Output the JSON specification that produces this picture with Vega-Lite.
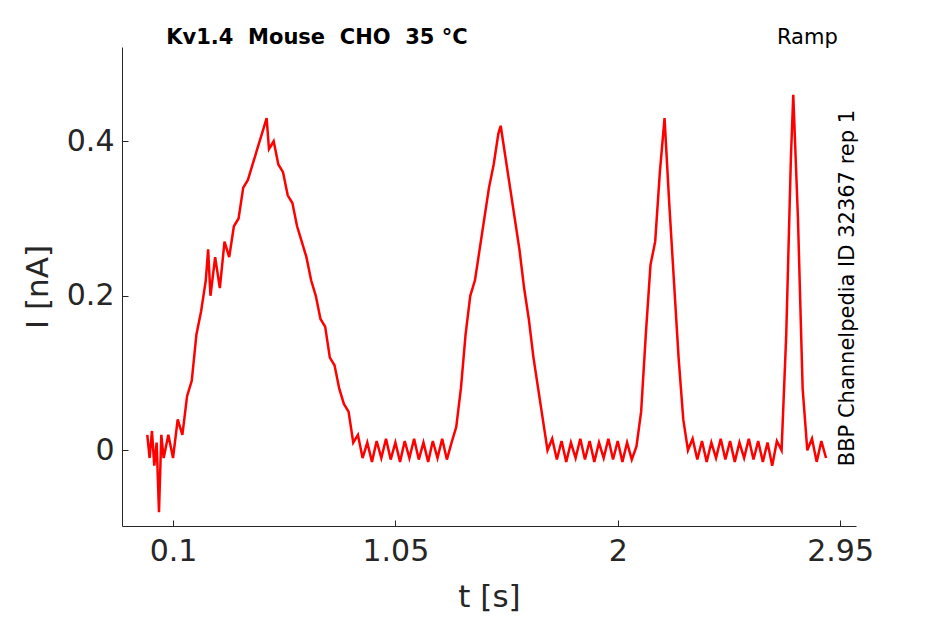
{
  "$schema": "https://vega.github.io/schema/vega-lite/v6.json",
  "width": 734,
  "height": 479,
  "padding": {"left": 122, "top": 47, "right": 89, "bottom": 98},
  "autosize": {"type": "none"},
  "config": {"view": {"stroke": null}, "font": "DejaVu Sans"},
  "datasets": {
    "trace": [
      {"t": -0.01, "I": 0.02}, {"t": 0.0, "I": -0.01}, {"t": 0.01, "I": 0.025}, {"t": 0.02, "I": -0.02},
      {"t": 0.03, "I": 0.01}, {"t": 0.04, "I": -0.08}, {"t": 0.05, "I": 0.02}, {"t": 0.06, "I": -0.01},
      {"t": 0.08, "I": 0.02}, {"t": 0.1, "I": -0.01}, {"t": 0.12, "I": 0.04}, {"t": 0.14, "I": 0.02},
      {"t": 0.16, "I": 0.07}, {"t": 0.18, "I": 0.09}, {"t": 0.2, "I": 0.15}, {"t": 0.22, "I": 0.18},
      {"t": 0.24, "I": 0.22}, {"t": 0.25, "I": 0.26}, {"t": 0.26, "I": 0.2}, {"t": 0.28, "I": 0.25},
      {"t": 0.3, "I": 0.21}, {"t": 0.32, "I": 0.27}, {"t": 0.34, "I": 0.25}, {"t": 0.36, "I": 0.29},
      {"t": 0.38, "I": 0.3}, {"t": 0.4, "I": 0.34}, {"t": 0.42, "I": 0.35}, {"t": 0.44, "I": 0.37},
      {"t": 0.46, "I": 0.39}, {"t": 0.48, "I": 0.41}, {"t": 0.5, "I": 0.43}, {"t": 0.51, "I": 0.39},
      {"t": 0.53, "I": 0.4}, {"t": 0.55, "I": 0.37}, {"t": 0.57, "I": 0.36}, {"t": 0.59, "I": 0.33},
      {"t": 0.61, "I": 0.32}, {"t": 0.63, "I": 0.29}, {"t": 0.65, "I": 0.27}, {"t": 0.67, "I": 0.25},
      {"t": 0.69, "I": 0.22}, {"t": 0.71, "I": 0.2}, {"t": 0.73, "I": 0.17}, {"t": 0.75, "I": 0.16},
      {"t": 0.77, "I": 0.12}, {"t": 0.79, "I": 0.11}, {"t": 0.81, "I": 0.08}, {"t": 0.83, "I": 0.06},
      {"t": 0.85, "I": 0.05}, {"t": 0.87, "I": 0.01}, {"t": 0.89, "I": 0.02}, {"t": 0.91, "I": -0.01},
      {"t": 0.93, "I": 0.01}, {"t": 0.95, "I": -0.015}, {"t": 0.97, "I": 0.012}, {"t": 0.99, "I": -0.01},
      {"t": 1.01, "I": 0.015}, {"t": 1.03, "I": -0.012}, {"t": 1.05, "I": 0.01}, {"t": 1.07, "I": -0.015},
      {"t": 1.09, "I": 0.012}, {"t": 1.11, "I": -0.01}, {"t": 1.13, "I": 0.015}, {"t": 1.15, "I": -0.012},
      {"t": 1.17, "I": 0.01}, {"t": 1.19, "I": -0.015}, {"t": 1.21, "I": 0.012}, {"t": 1.23, "I": -0.01},
      {"t": 1.25, "I": 0.015}, {"t": 1.27, "I": -0.012}, {"t": 1.29, "I": 0.01}, {"t": 1.31, "I": 0.03},
      {"t": 1.33, "I": 0.08}, {"t": 1.35, "I": 0.15}, {"t": 1.37, "I": 0.2}, {"t": 1.39, "I": 0.22},
      {"t": 1.41, "I": 0.26}, {"t": 1.43, "I": 0.3}, {"t": 1.45, "I": 0.34}, {"t": 1.47, "I": 0.37},
      {"t": 1.49, "I": 0.41}, {"t": 1.5, "I": 0.42}, {"t": 1.52, "I": 0.38}, {"t": 1.54, "I": 0.34},
      {"t": 1.56, "I": 0.3}, {"t": 1.58, "I": 0.26}, {"t": 1.6, "I": 0.21}, {"t": 1.62, "I": 0.17},
      {"t": 1.64, "I": 0.12}, {"t": 1.66, "I": 0.08}, {"t": 1.68, "I": 0.04}, {"t": 1.7, "I": 0.0},
      {"t": 1.72, "I": 0.015}, {"t": 1.74, "I": -0.012}, {"t": 1.76, "I": 0.012}, {"t": 1.78, "I": -0.015},
      {"t": 1.8, "I": 0.01}, {"t": 1.82, "I": -0.01}, {"t": 1.84, "I": 0.015}, {"t": 1.86, "I": -0.012},
      {"t": 1.88, "I": 0.012}, {"t": 1.9, "I": -0.015}, {"t": 1.92, "I": 0.01}, {"t": 1.94, "I": -0.01},
      {"t": 1.96, "I": 0.015}, {"t": 1.98, "I": -0.012}, {"t": 2.0, "I": 0.012}, {"t": 2.02, "I": -0.015},
      {"t": 2.04, "I": 0.01}, {"t": 2.06, "I": -0.012}, {"t": 2.08, "I": 0.005}, {"t": 2.1, "I": 0.05},
      {"t": 2.12, "I": 0.15}, {"t": 2.14, "I": 0.24}, {"t": 2.16, "I": 0.27}, {"t": 2.18, "I": 0.36},
      {"t": 2.2, "I": 0.43}, {"t": 2.22, "I": 0.32}, {"t": 2.24, "I": 0.22}, {"t": 2.26, "I": 0.12},
      {"t": 2.28, "I": 0.04}, {"t": 2.3, "I": 0.0}, {"t": 2.32, "I": 0.015}, {"t": 2.34, "I": -0.012},
      {"t": 2.36, "I": 0.012}, {"t": 2.38, "I": -0.015}, {"t": 2.4, "I": 0.01}, {"t": 2.42, "I": -0.01},
      {"t": 2.44, "I": 0.015}, {"t": 2.46, "I": -0.012}, {"t": 2.48, "I": 0.012}, {"t": 2.5, "I": -0.015},
      {"t": 2.52, "I": 0.01}, {"t": 2.54, "I": -0.01}, {"t": 2.56, "I": 0.015}, {"t": 2.58, "I": -0.012},
      {"t": 2.6, "I": 0.012}, {"t": 2.62, "I": -0.015}, {"t": 2.64, "I": 0.01}, {"t": 2.66, "I": -0.02},
      {"t": 2.68, "I": 0.012}, {"t": 2.7, "I": 0.0}, {"t": 2.72, "I": 0.15}, {"t": 2.74, "I": 0.38},
      {"t": 2.75, "I": 0.46}, {"t": 2.77, "I": 0.3}, {"t": 2.79, "I": 0.08}, {"t": 2.81, "I": 0.0},
      {"t": 2.83, "I": 0.015}, {"t": 2.85, "I": -0.015}, {"t": 2.87, "I": 0.012}, {"t": 2.89, "I": -0.01}
    ],
    "title": [{"t": 0.715, "I": 0.534, "txt": "Kv1.4\u00a0\u00a0Mouse\u00a0\u00a0CHO\u00a0\u00a035 °C"}],
    "ramp": [{"t": 2.81, "I": 0.534, "txt": "Ramp"}],
    "side": [{"t": 2.985, "I": 0.21, "txt": "BBP Channelpedia ID 32367 rep 1"}]
  },
  "encoding": {
    "x": {
      "field": "t", "type": "quantitative",
      "scale": {"domain": [-0.118, 3.018], "nice": false, "zero": false},
      "axis": {"title": "t [s]", "values": [0.1, 1.05, 2, 2.95], "labelExpr": "format(datum.value, '.3~g')", "grid": false, "labelFontSize": 30, "titleFontSize": 31, "titleFontWeight": "normal", "labelColor": "#262626", "titleColor": "#262626", "domainColor": "#262626", "tickColor": "#262626", "tickSize": -6, "labelPadding": 16, "titlePadding": 16, "labelFlush": false}
    },
    "y": {
      "field": "I", "type": "quantitative",
      "scale": {"domain": [-0.098, 0.522], "nice": false, "zero": false},
      "axis": {"title": "I [nA]", "values": [0, 0.2, 0.4], "labelExpr": "format(datum.value, '.3~g')", "grid": false, "labelFontSize": 30, "titleFontSize": 31, "titleFontWeight": "normal", "labelColor": "#262626", "titleColor": "#262626", "domainColor": "#262626", "tickColor": "#262626", "tickSize": -6, "labelPadding": 14, "titlePadding": 12}
    }
  },
  "layer": [
    {"data": {"name": "trace"}, "mark": {"type": "line", "color": "#ff0000", "strokeWidth": 2.5}},
    {"data": {"name": "title"}, "mark": {"type": "text", "fontSize": 21, "fontWeight": "bold", "color": "black"},
     "encoding": {"text": {"field": "txt"}}},
    {"data": {"name": "ramp"}, "mark": {"type": "text", "fontSize": 21, "color": "black"},
     "encoding": {"text": {"field": "txt"}}},
    {"data": {"name": "side"}, "mark": {"type": "text", "fontSize": 21, "color": "black", "angle": 270},
     "encoding": {"text": {"field": "txt"}}}
  ]
}
